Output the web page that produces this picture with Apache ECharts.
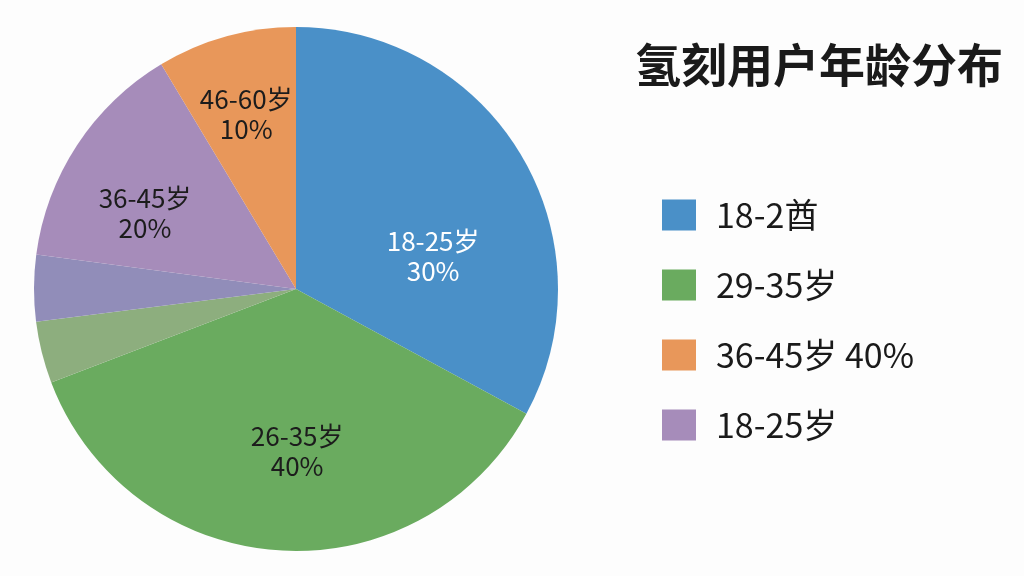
<!DOCTYPE html>
<html>
<head>
<meta charset="utf-8">
<script src="https://cdn.jsdelivr.net/npm/echarts@6/dist/echarts.min.js"></script>
<style>
html,body{margin:0;padding:0;background:#fdfdfd;}
#chart{width:1024px;height:576px;}
</style>
</head>
<body>
<div id="chart"></div>
<script>
const titleText = '氢刻用户年龄分布';
const sliceNames = ['18-2酋', '29-35岁', '其他A', '其他B', '18-25岁', '36-45岁 40%'];
const sliceValues = [32.9, 36.3, 3.8, 4.1, 14.3, 8.6];
const sliceLabels = ['18-25岁\n30%', '26-35岁\n40%', '', '', '36-45岁\n20%', '46-60岁\n10%'];
const legendOrder = ['18-2酋', '29-35岁', '36-45岁 40%', '18-25岁'];

// Styles
const sliceColors = ['#4a90c8', '#6aab5f', '#8dae7e', '#918db9', '#a68cba', '#e8975a'];
const labelColors = ['#ffffff', '#1c1c1c', '#1c1c1c', '#1c1c1c', '#1c1c1c', '#1c1c1c'];
const labelOffsets = [[22, 36], [10, 28], [0, 0], [0, 0], [-39, -2], [-14, -46]];

const FONT = '"Noto Sans CJK SC", "Noto Sans", sans-serif';

const seriesData = sliceNames.map((n, i) => ({
  name: n,
  value: sliceValues[i],
  itemStyle: { color: sliceColors[i] },
  label: {
    show: sliceLabels[i] !== '',
    formatter: sliceLabels[i],
    color: labelColors[i],
    offset: labelOffsets[i]
  }
}));

const chart = echarts.init(document.getElementById('chart'), null, { renderer: 'canvas' });
chart.setOption({
  backgroundColor: '#fdfdfd',
  animation: false,
  title: {
    text: titleText,
    left: 630,
    top: 37,
    textStyle: { fontFamily: FONT, fontSize: 46, fontWeight: 'bold', color: '#1a1a1a' }
  },
  legend: {
    orient: 'vertical',
    left: 657,
    top: 193,
    data: legendOrder,
    icon: 'rect',
    itemWidth: 34,
    itemHeight: 31,
    itemGap: 36,
    textStyle: { fontFamily: FONT, fontSize: 34, lineHeight: 31, color: '#1a1a1a', padding: [0, 0, 0, 15] },
    selectedMode: false
  },
  series: [{
    type: 'pie',
    center: [296, 289],
    radius: [0, 262],
    startAngle: 90,
    clockwise: true,
    avoidLabelOverlap: false,
    label: {
      position: 'inside',
      fontFamily: FONT,
      fontSize: 26,
      lineHeight: 30,
      align: 'center'
    },
    labelLine: { show: false },
    emphasis: { disabled: true },
    data: seriesData
  }]
});
</script>
</body>
</html>
